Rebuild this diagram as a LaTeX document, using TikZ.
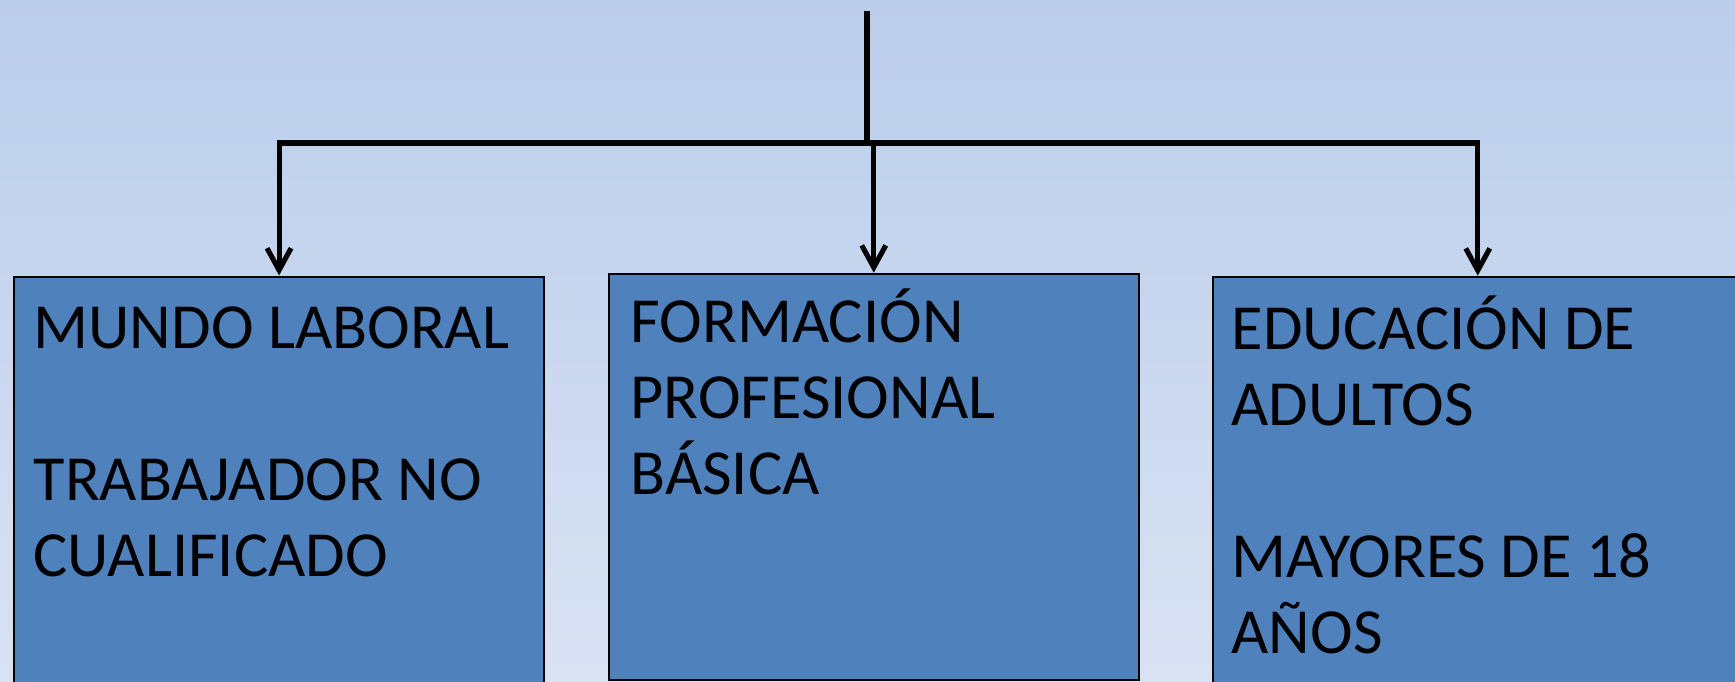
\documentclass[tikz,border=0pt]{standalone}
\usepackage{fontspec}
\setmainfont{Carlito}
\usetikzlibrary{arrows.meta}
\definecolor{bgtop}{RGB}{186,205,235}
\definecolor{bgbottom}{RGB}{217,226,243}
\definecolor{boxblue}{RGB}{79,129,189}
\tikzset{
    stagebox/.style={draw=black, line width=0.6pt, fill=boxblue, anchor=north west,
        minimum width=5.3cm, inner sep=0pt},
    % base = baseline of the last line
    stagetext/.style={anchor=base west, align=left, inner sep=0pt,
        font=\fontsize{18.3}{21.6}\selectfont},
    link/.style={line width=1.45pt},
    tip/.style={-{Straight Barb[length=2.2mm, width=2.4mm]}}
}
\begin{document}
\begin{tikzpicture}
        \useasboundingbox (0, 0) rectangle (17.35, -6.81);
        \shade [top color=bgtop, bottom color=bgbottom] (0, 0) rectangle (17.35, -6.81);
        \clip (0, 0) rectangle (17.35, -6.81);
        \node [stagebox, minimum height=4.4cm] (mundo) at (0.13, -2.755) {};
        \node [stagebox, minimum height=4.06cm] (fpb) at (6.077, -2.727) {};
        \node [stagebox, minimum height=4.4cm] (adultos) at (12.117, -2.757) {};
        \node [stagetext] (mundo text) at (0.33, -5.76)
            {MUNDO LABORAL\\[0.76cm]TRABAJADOR NO\\CUALIFICADO};
        \node [stagetext] (fpb text) at (6.30, -4.943)
            {FORMACIÓN\\PROFESIONAL\\BÁSICA};
        \node [stagetext] (adultos text) at (12.31, -6.53)
            {EDUCACIÓN DE\\ADULTOS\\[0.76cm]MAYORES DE 18\\AÑOS};
        \coordinate (top) at (8.67, -0.11);
        \coordinate (bar) at (8.67, -1.43);
        \draw [link] (top) -- (bar);
        \draw [link, tip] (fpb.north |- bar) -- (mundo.north |- bar) -- (mundo.north);
        \draw [link, tip] (fpb.north |- bar) -- (adultos.north |- bar) -- (adultos.north);
        \draw [link, tip] (fpb.north |- bar) -- (fpb.north);
\end{tikzpicture}
\end{document}
